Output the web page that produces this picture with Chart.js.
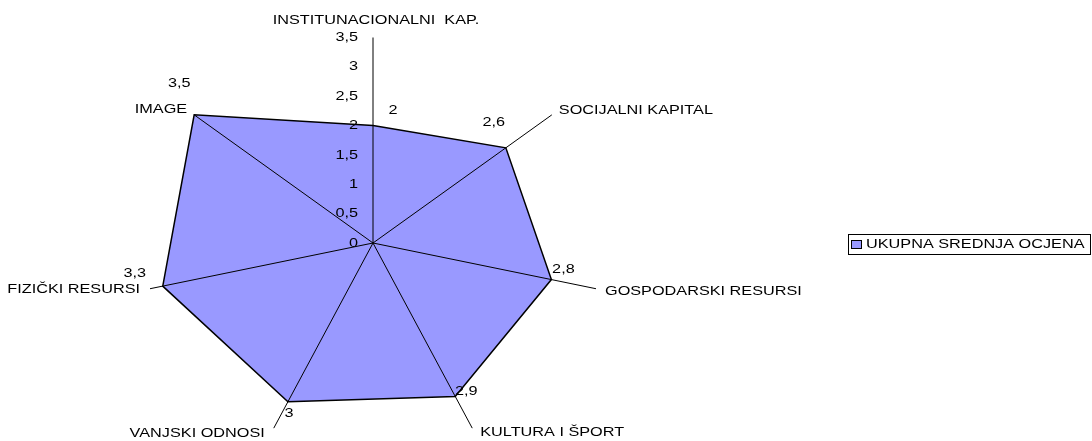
<!DOCTYPE html>
<html>
<head>
<meta charset="utf-8">
<script src="https://cdn.jsdelivr.net/npm/chart.js@4.4.1/dist/chart.umd.min.js"></script>
<style>
html,body{margin:0;padding:0;background:#ffffff;}
canvas{display:block;}
</style>
</head>
<body>
<canvas id="c" width="1092" height="441"></canvas>
<script>
// ---- data ----
const categories = ['INSTITUNACIONALNI  KAP.', 'SOCIJALNI KAPITAL', 'GOSPODARSKI RESURSI', 'KULTURA I ŠPORT', 'VANJSKI ODNOSI', 'FIZIČKI RESURSI', 'IMAGE'];
const seriesName = 'UKUPNA SREDNJA OCJENA';
const seriesValues = [2, 2.6, 2.8, 2.9, 3, 3.3, 3.5];
const tickValues = [0, 0.5, 1, 1.5, 2, 2.5, 3, 3.5];
const tickLabels = ['0', '0,5', '1', '1,5', '2', '2,5', '3', '3,5'];

// ---- layout / style ----
const CX = 373, CY = 243, R = 205.5, SX = 1.113, TX = 1.25;
const FONT = '13px "Liberation Sans", Arial, sans-serif';
const FILL = '#9999FF';
const labelPlacement = [
  {dx: 3, dy: -17.5, align: 'center'},
  {dx: 7, dy: -4, align: 'left'},
  {dx: 9, dy: 3, align: 'left'},
  {dx: 8, dy: 4.5, align: 'left'},
  {dx: -9, dy: 5, align: 'right'},
  {dx: -10, dy: 1, align: 'right'},
  {dx: -7, dy: -5, align: 'right'}
];
const valueLabelOffsets = [[20, -15], [-12, -25], [12, -10], [11, -5], [1, 12], [-28, -13], [-15, -31]];

function stretchedText(ctx, text, x, y, align) {
  ctx.save();
  ctx.translate(x, y);
  ctx.scale(TX, 1);
  ctx.font = FONT;
  ctx.fillStyle = '#000';
  ctx.textAlign = align;
  ctx.textBaseline = 'middle';
  ctx.fillText(text, 0, 0);
  ctx.restore();
}

const textPlugin = {
  id: 'excelText',
  afterDraw(chart) {
    const ctx = chart.ctx;
    const s = chart.scales.r;
    // axis tick labels
    tickValues.forEach((v, i) => {
      const d = s.getDistanceFromCenterForValue(v);
      stretchedText(ctx, tickLabels[i], s.xCenter - 15, s.yCenter - d, 'right');
    });
    // category labels
    categories.forEach((c, i) => {
      const p = s.getPointPosition(i, s.getDistanceFromCenterForValue(s.max));
      const pl = labelPlacement[i];
      stretchedText(ctx, c, p.x + pl.dx, p.y + pl.dy, pl.align);
    });
    // value labels
    const meta = chart.getDatasetMeta(0);
    meta.data.forEach((pt, i) => {
      const txt = String(seriesValues[i]).replace('.', ',');
      const o = valueLabelOffsets[i];
      stretchedText(ctx, txt, pt.x + o[0], pt.y + o[1], 'center');
    });
    // legend
    ctx.save();
    ctx.strokeStyle = '#000';
    ctx.lineWidth = 1;
    ctx.strokeRect(848.5, 234.5, 242, 20);
    ctx.fillStyle = FILL;
    ctx.fillRect(851.5, 240.5, 10, 8);
    ctx.strokeRect(851.5, 240.5, 10, 8);
    ctx.restore();
    stretchedText(ctx, seriesName, 866, 244, 'left');
  }
};

new Chart(document.getElementById('c'), {
  type: 'radar',
  data: {
    labels: categories,
    datasets: [{
      label: seriesName,
      data: seriesValues,
      backgroundColor: FILL,
      borderColor: '#000000',
      borderWidth: 1.5,
      fill: 'origin',
      pointRadius: 0,
      pointHoverRadius: 0,
      tension: 0
    }]
  },
  options: {
    responsive: false,
    animation: false,
    devicePixelRatio: 1,
    events: [],
    plugins: {
      legend: {display: false},
      tooltip: {enabled: false}
    },
    scales: {
      r: {
        min: 0,
        max: 3.5,
        ticks: {display: false, stepSize: 0.5, z: 1},
        grid: {display: false, z: 1},
        angleLines: {display: true, color: '#000000', lineWidth: 1},
        pointLabels: {display: false},
        afterFit: (s) => {
          s.xCenter = CX;
          s.yCenter = CY;
          s.drawingArea = R;
          if (!s._ellipse) {
            s._ellipse = true;
            s.getPointPosition = function (index, dist, add = 0) {
              const angle = this.getIndexAngle(index) - Math.PI / 2 + add;
              return {
                x: Math.cos(angle) * dist * SX + this.xCenter,
                y: Math.sin(angle) * dist + this.yCenter,
                angle
              };
            };
          }
        }
      }
    }
  },
  plugins: [textPlugin]
});
</script>
</body>
</html>
